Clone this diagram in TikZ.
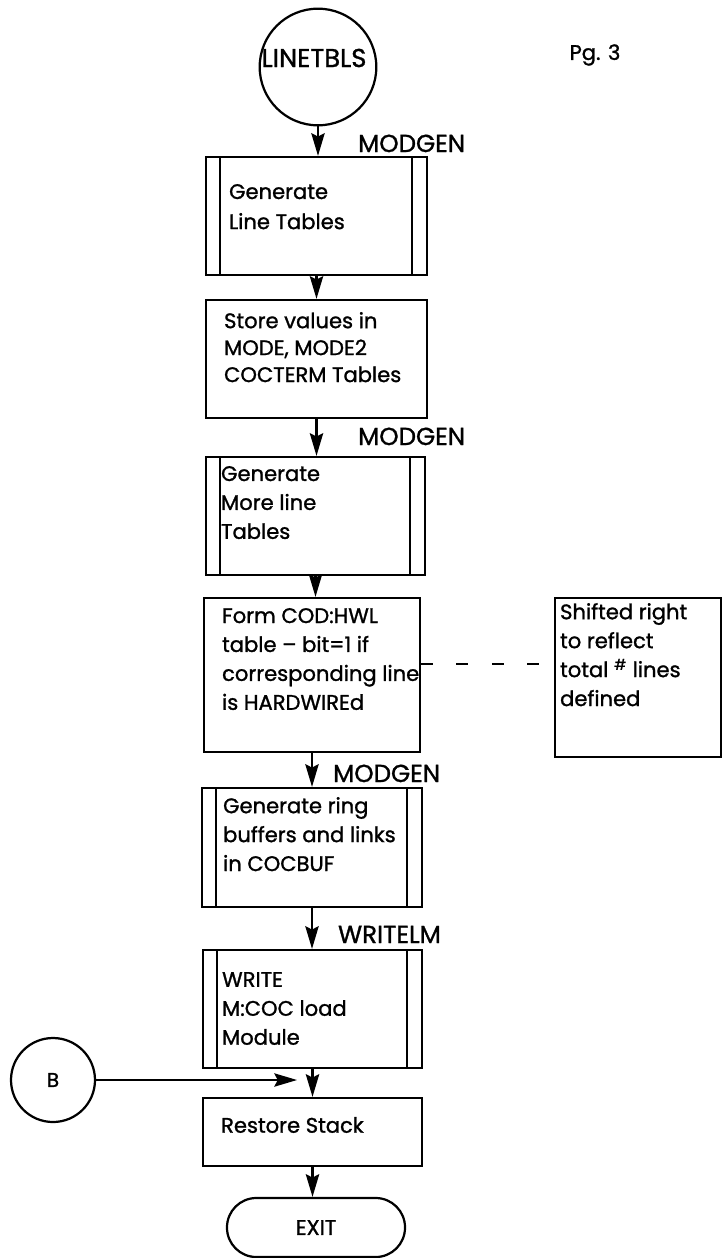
\documentclass[tikz,border=0pt]{standalone}
\usepackage{fontspec}
\setmainfont{Poppins}[UprightFeatures={FakeBold=1.2}]
\usetikzlibrary{arrows.meta,positioning}

\begin{document}
\begin{tikzpicture}[x=0.03cm,y=-0.03cm,line width=1.9pt,
  font=\fontsize{18}{24.7}\selectfont,
  tm/.style={draw,circle,inner sep=0pt},
  bx/.style={draw,rectangle,inner sep=0pt},
  sub/.style={bx,path picture={
    \draw ([xshift=0.42cm]path picture bounding box.north west) -- ([xshift=0.42cm]path picture bounding box.south west);
    \draw ([xshift=-0.45cm]path picture bounding box.north east) -- ([xshift=-0.45cm]path picture bounding box.south east);}},
  txt/.style={anchor=north west,align=left,inner sep=0pt},
  call/.style={anchor=base west,inner sep=0pt,font=\fontsize{21}{24}\selectfont},
  arr/.style={-{Stealth[length=0.68cm,width=0.4cm,inset=0.1cm]}}]
\useasboundingbox (0,0) rectangle (723,1258);

\node[tm,minimum size=3.5cm] (start) at (318,67) {};
\node[font=\fontsize{22}{26}\selectfont] (startt) at (314,58) {LINETBLS};
\node (pg) at (595,55) {Pg. 3};

\node[sub,minimum width=6.63cm,minimum height=3.54cm] (gen1) at (316.5,216) {};
\node[txt] (gen1t) at (228,183) {Generate\\[1pt]Line Tables};
\node[bx,minimum width=6.63cm,minimum height=3.54cm] (store) at (316.5,359) {};
\node[txt,font=\fontsize{18}{23}\selectfont] (storet) at (223,311) {Store values in\\MODE, MODE2\\COCTERM Tables};
\node[sub,minimum width=6.57cm,minimum height=3.54cm] (gen2) at (315.5,516) {};
\node[txt] (gen2t) at (220,465) {Generate\\More line\\Tables};
\node[bx,minimum width=6.48cm,minimum height=4.62cm] (form) at (312,675) {};
\node[txt] (formt) at (221,607) {Form COD:HWL\\table -- bit=1 if\\corresponding line\\is HARDWIREd};
\node[bx,minimum width=4.98cm,minimum height=4.77cm] (note) at (638,677.5) {};
\node[txt] (notet) at (559,602) {Shifted right\\to reflect\\total \textsuperscript{\#} lines\\defined};
\node[sub,minimum width=6.6cm,minimum height=3.57cm] (ring) at (312,847.5) {};
\node[txt] (ringt) at (222,796) {Generate ring\\buffers and links\\in COCBUF};
\node[sub,minimum width=6.57cm,minimum height=3.54cm] (wrt) at (312.5,1009) {};
\node[txt] (wrtt) at (221,971) {WRITE\\M:COC load\\Module};
\node[bx,minimum width=6.57cm,minimum height=2.04cm] (rest) at (312.5,1132) {};
\node[txt] (restt) at (220,1116) {Restore Stack};
\node[bx,rounded corners=0.88cm,minimum width=5.34cm,minimum height=1.77cm] (exit) at (316,1227.5) {EXIT};
\node[tm,minimum size=2.52cm,font=\fontsize{17}{20}\selectfont] (b) at (53,1080) {B};
\coordinate (bend) at (297,1080);

\node[call] (m1) at (357,152) {MODGEN};
\node[call] (m2) at (357,445) {MODGEN};
\node[call] (m3) at (332,782) {MODGEN};
\node[call] (m4) at (337,943) {WRITELM};

\draw[arr] (start.south) -- (start.south |- gen1.north);
\draw[arr] (gen1.south) -- (gen1.south |- store.north);
\draw[arr] (store.south) -- (store.south |- gen2.north);
\draw[arr] (gen2.south) -- (gen2.south |- form.north);
\draw[arr] (form.south) -- (form.south |- ring.north);
\draw[arr] (ring.south) -- (ring.south |- wrt.north);
\draw[arr] (wrt.south) -- (wrt.south |- rest.north);
\draw[arr] (rest.south) -- (rest.south |- exit.north);
\draw[arr,line width=1.4pt] (b) -- (bend);
\draw[dashed,line width=1.2pt,dash pattern=on 0.36cm off 0.7cm] ([yshift=0.33cm]form.east) -- ([yshift=0.33cm]form.east -| note.west);
\end{tikzpicture}
\end{document}
